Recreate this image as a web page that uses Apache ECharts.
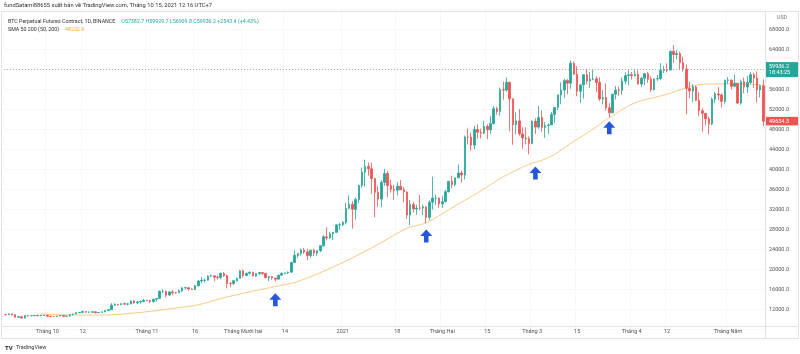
<!DOCTYPE html>
<html>
<head>
    <meta charset="utf-8">
    <title>BTC Perpetual Futures Contract, 1D</title>
    <script src="https://cdn.jsdelivr.net/npm/echarts@6/dist/echarts.min.js"></script>
    <style>
        html, body { margin: 0; padding: 0; background: #fff; }
        #main { width: 800px; height: 354px; }
    </style>
</head>
<body>
<div id="main"></div>
<script type="text/javascript">

    // daily candles, 2020-09-18 .. 2021-05-12
    var opens = [
        10950,10930,11080,10920,10420,10530,10240,10740,10690,10730,10770,10690,10840,
        10780,10620,10570,10550,10670,10790,10600,10670,10920,11060,11300,11380,11540,11430,11430,11500,11320,11360,11500,11750,11920,12820,12990,12930,13120,13030,13070,13650,13280,13460,13560,
        13800,13760,13550,14020,14150,15590,15590,14840,15480,15330,15310,15700,16280,16320,16070,15960,16720,17660,17800,17820,18650,18700,18420,18370,19160,18720,17150,17140,17720,18180,
        19700,18770,19210,19420,18650,19150,19360,19170,18320,18550,18250,18030,18800,19170,19270,19430,21340,22800,23140,23850,23480,22740,23820,23240,23730,24710,26490,26280,27080,27390,28880,
        28920,29370,32190,33000,31990,33950,36770,39430,40580,40090,38150,35400,34050,37370,39150,36770,36010,35820,36630,35900,35470,30850,32950,32080,32260,32250,32500,30400,33430,34260,34260,
        33090,33520,35510,37620,36940,38290,39260,38870,46450,46440,44840,47970,47410,47230,48590,47910,49130,52120,51580,55900,55840,57410,54090,48890,49680,47070,46280,46110,
        45140,49590,48440,50350,48370,48750,48880,50970,52380,54880,55860,57770,57220,61190,59000,55610,56900,58910,57650,58030,58100,57350,54080,54340,52300,51300,55030,55840,55780,57630,58740,
        58920,58720,58990,57060,58200,59130,58020,55950,58080,58140,59770,59960,59840,63590,62960,63160,61330,60060,56190,55660,56470,53790,51700,51190,50100,49050,54030,55070,54880,53580,
        57800,57850,56610,57210,53240,57510,56440,57380,58930,58240,55860,56700
    ];
    var highs = [
        11040,11180,11090,10990,10580,10540,10780,10770,10800,10810,10950,10860,10850,
        10950,10660,10600,10690,10800,10800,10690,10960,11110,11480,11440,11720,11560,11550,11620,11540,11400,11520,11820,12030,13220,13200,13030,13170,13350,13250,13780,13860,13650,13700,14100,
        13900,13830,14070,14250,15760,15980,15770,15660,15850,15480,15970,16480,16480,16330,16140,16880,17860,18480,18140,18800,18970,18750,18770,19420,19480,18920,17460,17850,18350,19860,
        19920,19340,19570,19510,19180,19420,19390,19280,18640,18560,18290,18950,19410,19350,19570,21560,23800,23280,24170,24300,24100,23840,24100,23800,24790,26870,28420,27500,27410,28990,29300,
        29600,33300,34780,33600,34360,36940,40370,41950,41350,41350,38260,36630,37850,40100,39700,37950,36850,37400,37850,36420,35600,33830,33450,32940,34880,32920,32560,33780,38530,34930,34330,
        34720,35900,37660,38700,38300,40950,39700,46750,48200,47300,48680,48980,48150,49700,49000,50650,52620,52550,56330,57500,58350,57500,54180,51380,52040,48400,48400,46600,
        49790,50200,52640,51770,49450,49200,51450,52400,54900,57390,58150,58060,61780,61600,60630,56940,58980,60100,59470,59880,58600,58420,55830,57200,53230,55080,56640,56560,58400,59370,59800,
        59460,60040,59790,58490,59200,59480,58640,58150,58880,61220,60700,61200,63780,64850,63800,63520,62500,61000,57530,57050,56760,55470,52130,51200,50550,54350,55460,56430,55200,57960,
        58450,57950,58980,57240,57960,58360,58650,59500,59300,59600,56880,58000
    ];
    var lows = [
        10780,10890,10770,10290,10360,10140,10200,10550,10640,10600,10630,10640,10670,
        10430,10370,10490,10520,10630,10530,10580,10530,10830,11050,11280,11240,11300,11280,11270,11220,11290,11350,11400,11680,11900,12690,12730,12880,12900,12800,13050,13110,12980,13130,13430,
        13630,13220,13300,13520,14100,15190,14340,14700,14810,15090,15280,15440,15950,15710,15860,15870,16530,17210,17330,17760,18420,17610,18000,18020,18500,16200,16530,16880,17520,18180,
        18330,18580,18920,18590,18500,18860,18900,18250,17650,17910,17570,18020,18720,19000,19050,19280,21230,22350,22750,23060,21820,22350,22600,22700,23440,24500,25800,26100,25880,27320,27850,
        28620,28950,32000,28130,29900,33290,36300,36500,38720,35110,30420,32530,32380,36700,34410,35360,33850,34800,35850,33400,30070,28850,31390,30900,31910,30840,29240,29840,31920,32820,32300,
        32300,33420,35360,36160,36570,38220,37350,38000,45000,43730,44000,46120,46200,47000,45990,47040,48970,50910,50700,53900,55500,47600,44900,47000,46750,44100,45000,43000,
        45010,47050,48100,47500,46300,47070,48880,49270,51850,53000,54270,55000,56080,58940,54600,53270,54120,57020,56300,57820,55450,53650,53000,51700,50400,51300,53960,54700,54900,57020,56770,
        57940,58520,56930,56500,56800,57300,55470,55700,57680,57870,59220,59370,59760,61300,62020,60000,59580,51000,54220,53400,53600,50580,47500,48750,47040,48810,53220,53880,52330,53130,
        57050,56000,56480,53060,52900,55200,55270,56970,56250,53400,54370,48600
    ];
    var closes = [
        10930,11080,10920,10420,10530,10240,10740,10690,10730,10770,10690,10840,10780,
        10620,10570,10550,10670,10790,10600,10670,10920,11060,11300,11380,11540,11430,11430,11500,11320,11360,11500,11750,11920,12820,12990,12930,13120,13030,13070,13650,13280,13460,13560,13800,
        13760,13550,14020,14150,15590,15590,14840,15480,15330,15310,15700,16280,16320,16070,15960,16720,17660,17800,17820,18650,18700,18420,18370,19160,18720,17150,17140,17720,18180,19700,
        18770,19210,19420,18650,19150,19360,19170,18320,18550,18250,18030,18800,19170,19270,19430,21340,22800,23140,23850,23480,22740,23820,23240,23730,24710,26490,26280,27080,27390,28880,28920,
        29370,32190,33000,31990,33950,36770,39430,40580,40090,38150,35400,34050,37370,39150,36770,36010,35820,36630,35900,35470,30850,32950,32080,32260,32250,32500,30400,33430,34260,34260,33090,
        33520,35510,37620,36940,38290,39260,38870,46450,46440,44840,47970,47410,47230,48590,47910,49130,52120,51580,55900,55840,57410,54090,48890,49680,47070,46280,46110,45140,
        49590,48440,50350,48370,48750,48880,50970,52380,54880,55860,57770,57220,61190,59000,55610,56900,58910,57650,58030,58100,57350,54080,54340,52300,51300,55030,55840,55780,57630,58740,58920,
        58720,58990,57060,58200,59130,58020,55950,58080,58140,59770,59960,59840,63590,62960,63160,61330,60060,56190,55660,56470,53790,51700,51190,50100,49050,54030,55070,54880,53580,57800,
        57850,56610,57210,53240,57510,56440,57380,58930,58240,55860,56700,49634.3
    ];

    // SMA (50)
    var smaPoints = [
        ['2020-09-29', 11050], ['2020-10-10', 10850], ['2020-10-20', 10880], ['2020-10-31', 11450],
        ['2020-11-10', 12250], ['2020-11-17', 12900], ['2020-11-24', 14150], ['2020-12-01', 15200],
        ['2020-12-11', 16550], ['2020-12-18', 17550], ['2020-12-27', 19900], ['2021-01-04', 22300],
        ['2021-01-12', 25000], ['2021-01-21', 28200], ['2021-01-27', 29300], ['2021-02-04', 32300],
        ['2021-02-12', 35300], ['2021-02-20', 38500], ['2021-02-28', 41000], ['2021-03-04', 41800],
        ['2021-03-08', 43000], ['2021-03-13', 45200], ['2021-03-17', 46800], ['2021-03-21', 48500],
        ['2021-03-25', 50300], ['2021-04-02', 53300], ['2021-04-12', 55000], ['2021-04-18', 56300],
        ['2021-04-23', 57000], ['2021-05-01', 57100], ['2021-05-07', 57050], ['2021-05-12', 56850]
    ];

    // blue arrows under the pullbacks
    var arrowPoints = [
        ['2020-12-11', 13900], ['2021-01-27', 26660], ['2021-03-02', 39260], ['2021-03-25', 48300]
    ];

    var tickDates = ['2020-10-01', '2020-10-12', '2020-11-01', '2020-11-16', '2020-12-01', '2020-12-14', '2021-01-01',
        '2021-01-18', '2021-02-01', '2021-02-15', '2021-03-01', '2021-03-15', '2021-04-01', '2021-04-12', '2021-05-01'];
    var tickNames = ['Tháng 10', '12', 'Tháng 11', '16', 'Tháng Mười hai', '14', '2021',
        '18', 'Tháng Hai', '15', 'Tháng 3', '15', 'Tháng 4', '12', 'Tháng Năm'];

    var lastPrice = 59936.2;
    var lastTime = '18:43:25';
    var barClose = 49634.3;
    var smaLast = '48232.9';

    var dates = [];
    for (var t = Date.UTC(2020, 8, 18); dates.length < closes.length; t += 86400000) {
        dates.push(new Date(t).toISOString().slice(0, 10));
    }

    var candles = [];
    for (var i = 0; i < closes.length; i++) {
        candles.push([opens[i], closes[i], lows[i], highs[i]]);
    }

    var UP = '#26a69a', DOWN = '#ef5350';
    var SMA_COLOR = '#f5bd6a';
    var FONT = 'Roboto, "Noto Sans", sans-serif';
    var arrowPath = 'path://M6,0 L12,6.5 L8.3,6.5 L8.3,13 L3.7,13 L3.7,6.5 L0,6.5 Z';

    var myChart = echarts.init(document.getElementById('main'));

    var option = {
        animation: false,
        backgroundColor: '#fff',
        textStyle: { fontFamily: FONT },
        grid: { left: 4, right: 35, top: 9.3, bottom: 24.7 },
        xAxis: {
            type: 'category',
            data: dates,
            boundaryGap: true,
            offset: -3.3,
            axisLine: { show: false },
            axisTick: { show: false },
            axisLabel: {
                margin: 3,
                fontSize: 5.5,
                color: '#555',
                interval: function (idx, val) { return tickDates.indexOf(val) >= 0; },
                formatter: function (val) { return tickNames[tickDates.indexOf(val)]; }
            },
            splitLine: {
                show: true,
                interval: function (idx, val) { return tickDates.indexOf(val) >= 0; },
                lineStyle: { color: '#f6f7f9', width: 1 }
            }
        },
        yAxis: {
            type: 'value',
            position: 'right',
            min: 8000,
            max: 72000,
            interval: 4000,
            axisLine: { show: false },
            axisTick: { show: false },
            axisLabel: {
                margin: 4,
                fontSize: 5.5,
                color: '#555',
                formatter: function (v) {
                    if (v === 8000 || v === 72000 || v === 60000) return '';
                    return v.toFixed(1);
                }
            },
            splitLine: { lineStyle: { color: '#f6f7f9', width: 1 } }
        },
        series: [
            {
                name: 'BTC',
                type: 'candlestick',
                data: candles,
                barWidth: 2,
                itemStyle: {
                    color: UP, color0: DOWN,
                    borderColor: UP, borderColor0: DOWN,
                    borderWidth: 0.8
                },
                markLine: {
                    silent: true,
                    symbol: ['none', 'none'],
                    data: [
                        {
                            yAxis: lastPrice,
                            lineStyle: { color: '#9598a1', type: [1, 2], width: 0.8 },
                            label: {
                                position: 'end', distance: 1,
                                formatter: lastPrice.toFixed(1) + '\n' + lastTime,
                                backgroundColor: UP, color: '#fff',
                                fontSize: 5.5, lineHeight: 6.5,
                                padding: [1, 3, 1, 3], width: 26, align: 'left'
                            }
                        },
                        {
                            yAxis: barClose,
                            lineStyle: { color: 'rgba(0,0,0,0)', width: 0 },
                            label: {
                                position: 'end', distance: 1,
                                formatter: barClose.toFixed(1),
                                backgroundColor: DOWN, color: '#fff', opacity: 1,
                                fontSize: 5.5, lineHeight: 6.5,
                                padding: [1, 3, 1, 3], width: 26, align: 'left'
                            }
                        }
                    ]
                },
                markPoint: {
                    silent: true,
                    symbol: arrowPath,
                    symbolSize: [12, 13],
                    itemStyle: { color: '#2458d8' },
                    label: { show: false },
                    data: arrowPoints.map(function (p) { return { coord: p }; })
                }
            },
            {
                name: 'SMA 50',
                type: 'line',
                data: smaPoints,
                showSymbol: false,
                smooth: 0.3,
                lineStyle: { color: SMA_COLOR, width: 0.8 },
                z: 1
            }
        ],
        graphic: [
            {
                type: 'rect', silent: true, z: 100,
                shape: { x: 1.5, y: 11.5, width: 797, height: 327 },
                style: { fill: 'none', stroke: '#e0e3eb', lineWidth: 1 }
            },
            {
                type: 'line', silent: true, z: 100,
                shape: { x1: 765.5, y1: 11.5, x2: 765.5, y2: 338.5 },
                style: { stroke: '#e0e3eb', lineWidth: 1 }
            },
            {
                type: 'line', silent: true, z: 100,
                shape: { x1: 1.5, y1: 326.5, x2: 798.5, y2: 326.5 },
                style: { stroke: '#e0e3eb', lineWidth: 1 }
            },
            {
                type: 'text', left: 4, top: 3, silent: true,
                style: {
                    text: 'fundSatami88655 xuất bản về TradingView.com, Tháng 10 15, 2021 12:16 UTC+7',
                    fontSize: 5.8, fill: '#333', fontFamily: FONT
                }
            },
            {
                type: 'text', left: 8, top: 16, silent: true, z: 101,
                style: {
                    text: '{a|BTC Perpetual Futures Contract, 1D, BINANCE}  {b|O57382.7 H59929.7 L56909.8 C59936.2 +2543.4 (+4.43%)}',
                    fontFamily: FONT,
                    rich: {
                        a: { fontSize: 5.3, fill: '#333', fontFamily: FONT },
                        b: { fontSize: 5.3, fill: UP, fontFamily: FONT }
                    }
                }
            },
            {
                type: 'text', left: 8, top: 24, silent: true, z: 101,
                style: {
                    text: '{a|SMA 50 200 (50, 200)}  {b|' + smaLast + '}',
                    fontFamily: FONT,
                    rich: {
                        a: { fontSize: 5.3, fill: '#333', fontFamily: FONT },
                        b: { fontSize: 5.3, fill: '#f0a93c', fontFamily: FONT }
                    }
                }
            },
            {
                type: 'text', left: 777, top: 15, silent: true,
                style: { text: 'USD', fontSize: 5.3, fill: '#777', fontFamily: FONT }
            },
            {
                type: 'text', left: 5, top: 342, silent: true,
                style: {
                    text: '{a|TV} {b|TradingView}',
                    rich: {
                        a: { fontSize: 6, fontWeight: 'bold', fill: '#131722', fontFamily: FONT },
                        b: { fontSize: 5.5, fill: '#333', fontFamily: FONT }
                    }
                }
            }
        ]
    };

    myChart.setOption(option);
</script>
</body>
</html>
